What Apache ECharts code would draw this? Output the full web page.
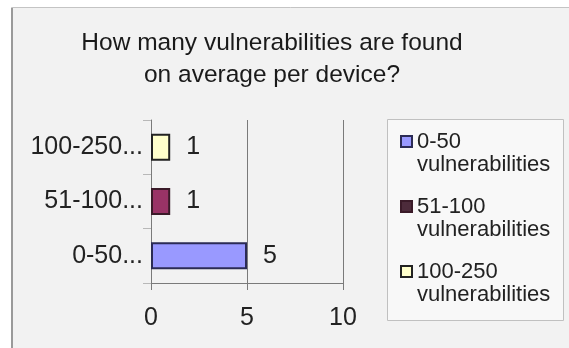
<!DOCTYPE html>
<html>
<head>
<meta charset="utf-8">
<script src="https://cdn.jsdelivr.net/npm/echarts@6/dist/echarts.min.js"></script>
<style>
  html, body { margin: 0; padding: 0; background: #ffffff; }
  #chart { width: 569px; height: 348px; }
</style>
</head>
<body>
<div id="chart"></div>
<script>
// Average number of vulnerabilities found per device, by range
const categories = ['0-50...', '51-100...', '100-250...'];
const seriesNames = ['0-50 vulnerabilities', '51-100 vulnerabilities', '100-250 vulnerabilities'];
const values = [5, 1, 1];
const xTicks = [0, 5, 10];

const fillColors = ['#9999ff', '#993366', '#ffffcc'];
const borderColors = ['#2b2b55', '#3a1a28', '#222222'];
const legendIconColors = ['#9999ff', '#4d2b3b', '#ffffcc'];

const textFont = '"Liberation Sans", Arial, sans-serif';
const ink = '#222222';

const chart = echarts.init(document.getElementById('chart'), null, { renderer: 'canvas' });

// one series per range so each range gets its own legend entry
const series = seriesNames.map((name, i) => ({
  name: name,
  type: 'bar',
  stack: 'ranges',
  barWidth: 27,
  data: categories.map((c, j) => (j === i ? values[i] : '-')),
  itemStyle: { color: fillColors[i], borderColor: borderColors[i], borderWidth: 2 },
  label: {
    show: true,
    position: 'right',
    distance: 16,
    fontFamily: textFont,
    fontSize: 25,
    color: ink
  },
  emphasis: { disabled: true },
  z: 3
}));

chart.setOption({
  animation: false,
  backgroundColor: '#ffffff',
  graphic: [
    {
      type: 'rect',
      z: -10,
      shape: { x: 11.5, y: 7.5, width: 575, height: 360 },
      style: { fill: '#f2f2f2', stroke: '#c4c4c4', lineWidth: 1 }
    },
    {
      type: 'line',
      z: -9,
      shape: { x1: 12, y1: 8, x2: 12, y2: 360 },
      style: { stroke: '#9a9a9a', lineWidth: 2 }
    },
    {
      type: 'rect',
      z: -8,
      shape: { x: 387.5, y: 119.5, width: 176, height: 201 },
      style: { fill: '#f8f8f8', stroke: '#c0c0c0', lineWidth: 1 }
    }
  ],
  title: {
    text: 'How many vulnerabilities are found\non average per device?',
    left: 272,
    top: 27,
    textAlign: 'center',
    padding: 0,
    textStyle: {
      fontFamily: textFont,
      fontSize: 24.5,
      fontWeight: 'normal',
      lineHeight: 32,
      color: '#1a1a1a'
    }
  },
  legend: {
    orient: 'vertical',
    left: 400,
    top: 107,
    padding: 0,
    itemGap: -4,
    itemWidth: 11,
    itemHeight: 11,
    icon: 'rect',
    selectedMode: false,
    data: seriesNames.map((name, i) => ({
      name: name,
      itemStyle: { color: legendIconColors[i], borderColor: borderColors[i], borderWidth: 2 }
    })),
    // blank leading line keeps the swatch beside the first text line
    formatter: (name) => '\n' + name.replace(' ', '\n'),
    textStyle: {
      fontFamily: textFont,
      fontSize: 22,
      lineHeight: 23,
      color: ink
    }
  },
  grid: { left: 151, top: 120, width: 192, height: 163, containLabel: false },
  xAxis: {
    type: 'value',
    min: xTicks[0],
    max: xTicks[xTicks.length - 1],
    interval: xTicks[1] - xTicks[0],
    axisLine: { show: true, lineStyle: { color: '#7a7a7a', width: 1 } },
    axisTick: { show: true, length: 7, lineStyle: { color: '#7a7a7a' } },
    splitLine: { show: true, lineStyle: { color: '#7a7a7a', width: 1 } },
    axisLabel: { margin: 23, fontFamily: textFont, fontSize: 25, color: ink }
  },
  yAxis: {
    type: 'category',
    data: categories,
    axisLine: { show: true, lineStyle: { color: '#7a7a7a', width: 1 } },
    axisTick: { show: true, length: 8, lineStyle: { color: '#b8b8b8' } },
    axisLabel: { margin: 8, fontFamily: textFont, fontSize: 25, color: ink }
  },
  series: series
});
</script>
</body>
</html>
